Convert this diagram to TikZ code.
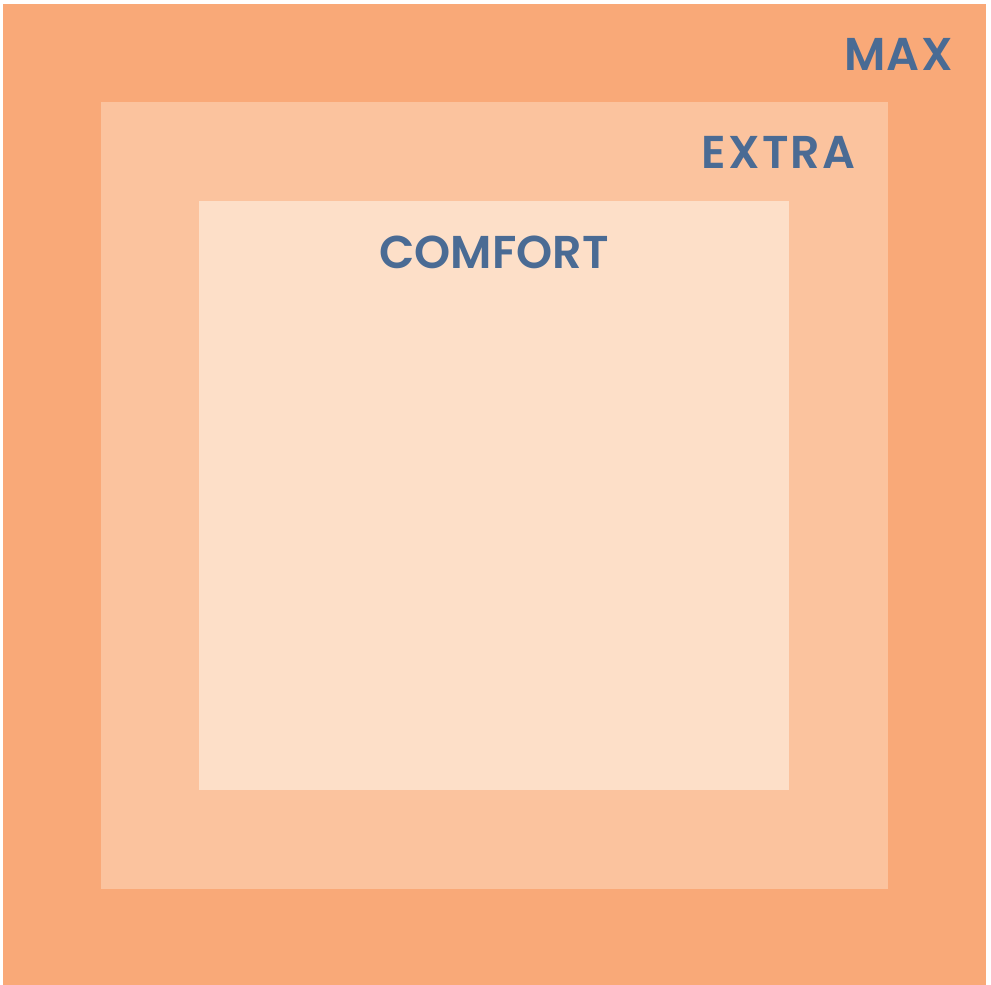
\documentclass[tikz,border=0pt]{standalone}
\usepackage{fontspec}
\setmainfont{Poppins}[BoldFont={* SemiBold}]
\begin{document}
\begin{tikzpicture}[x=0.5pt, y=-0.5pt]
    \definecolor{fillColourMax}{HTML}{F9A978}
    \definecolor{fillColourExtra}{HTML}{FBC39E}
    \definecolor{fillColourComfort}{HTML}{FDDFC8}
    \definecolor{textColour}{HTML}{4A6B94}

    \tikzset{zonelabel/.style={text=textColour, font=\bfseries\fontsize{23}{23}\selectfont, inner sep=0pt}}

    % Page margins
    \useasboundingbox[fill=white] (0,0) rectangle (991,985);

    % Zone MAX
    \coordinate (maxNW) at (3,4);
    \coordinate (maxSE) at (986,985);
    \fill[fillColourMax] (maxNW) rectangle (maxSE);

    % Zone EXTRA
    \coordinate (extraNW) at (101,102);
    \coordinate (extraSE) at (888,889);
    \fill[fillColourExtra] (extraNW) rectangle (extraSE);

    % Zone COMFORT
    \coordinate (comfortNW) at (199,201);
    \coordinate (comfortSE) at (789,790);
    \fill[fillColourComfort] (comfortNW) rectangle (comfortSE);

    % Labels
    \node[zonelabel, anchor=base east] (maxLabel) at (953,70) {\addfontfeature{LetterSpace=3}MAX};
    \node[zonelabel, anchor=base east] (extraLabel) at (856,168) {\addfontfeature{LetterSpace=5}EXTRA};
    \node[zonelabel, anchor=base] (comfortLabel) at (494,268) {COMFORT};

\end{tikzpicture}
\end{document}
